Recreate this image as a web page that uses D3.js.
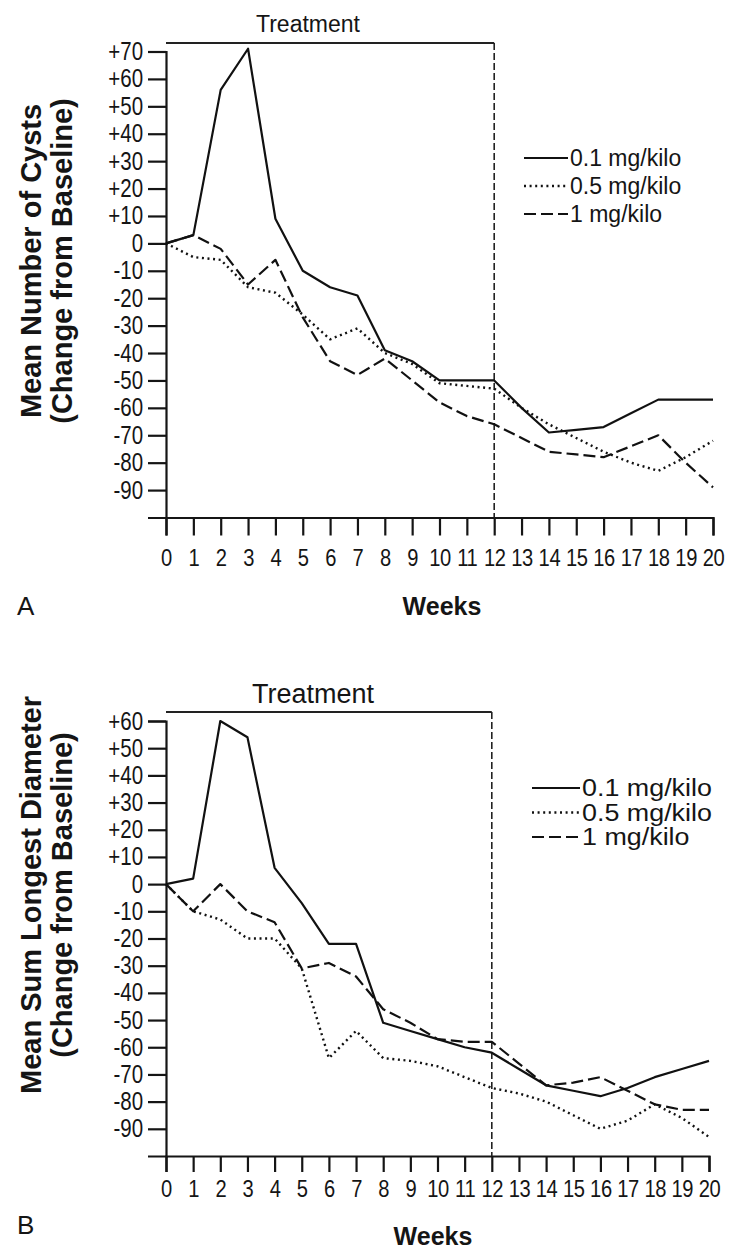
<!DOCTYPE html>
<html>
<head>
<meta charset="utf-8">
<script src="https://cdn.jsdelivr.net/npm/d3@7"></script>
<style>
  body { margin: 0; background: #fff; }
  svg text { font-family: "Liberation Sans", Arial, Helvetica, sans-serif; fill: #151515; }
</style>
</head>
<body>
<svg id="chart" width="731" height="1254"></svg>
<script>
// Weeks on study
const weeks = [0, 1, 2, 3, 4, 5, 6, 7, 8, 9, 10, 11, 12, 13, 14, 15, 16, 17, 18, 19, 20];
const xTickLabels = ["0", "1", "2", "3", "4", "5", "6", "7", "8", "9", "10", "11", "12", "13", "14", "15", "16", "17", "18", "19", "20"];

// Dose groups
const doses = ["0.1 mg/kilo", "0.5 mg/kilo", "1 mg/kilo"];

// Panel A: mean number of cysts, change from baseline
const cystsLow  = [0, 3, 56, 71, 9, -10, -16, -19, -39, -43, -50, -50, -50, -60, -69, -68, -67, -62, -57, -57, -57];
const cystsMid  = [0, -5, -6, -16, -18, -26, -35, -31, -40, -44, -51, -52, -53, -60, -66, -71, -76, -80, -83, -78, -72];
const cystsHigh = [0, 3, -2, -15, -6, -27, -43, -48, -42, -50, -58, -63, -66, -71, -76, -77, -78, -74, -70, -80, -89];
const yTicksA = [70, 60, 50, 40, 30, 20, 10, 0, -10, -20, -30, -40, -50, -60, -70, -80, -90];

// Panel B: mean sum of longest diameter, change from baseline
const diamLow  = [0, 2, 60, 54, 6, -7, -22, -22, -51, -54, -57, -60, -62, -68, -74, -76, -78, -75, -71, -68, -65];
const diamMid  = [0, -10, -13, -20, -20, -31, -64, -54, -64, -65, -67, -71, -75, -77, -80, -85, -90, -87, -81, -86, -93];
const diamHigh = [0, -10, 0, -10, -14, -31, -29, -34, -46, -51, -57, -58, -58, -66, -74, -73, -71, -76, -81, -83, -83];
const yTicksB = [60, 50, 40, 30, 20, 10, 0, -10, -20, -30, -40, -50, -60, -70, -80, -90];

const treatmentEnd = 12;

const svg = d3.select("#chart");

// solid, dotted, dashed
const dashFor = ["none", "2,3.6", "12,5"];

function fmtY(v) { return v > 0 ? "+" + v : String(v); }

function drawPanel(p) {
  const g = svg.append("g");
  const x = d3.scaleLinear().domain([0, 20]).range([p.x0, p.x1]);
  const y = d3.scaleLinear().domain(p.yDomain).range(p.yRange);
  const yBase = y(p.yDomain[0]);

  // y axis
  const yAxis = d3.axisLeft(y).tickValues(p.yTicks).tickSize(18).tickSizeOuter(18)
    .tickPadding(10).tickFormat(fmtY);
  const ya = g.append("g").attr("transform", `translate(${x(0)},0)`).call(yAxis);
  ya.select(".domain").attr("stroke", "#151515").attr("stroke-width", 2.2);
  ya.selectAll(".tick line").attr("stroke", "#151515").attr("stroke-width", 2.2);
  ya.selectAll(".tick text")
    .style("font-size", "25px").attr("fill", "#151515")
    .attr("transform", "scale(0.82,1)");

  // x axis
  const xAxis = d3.axisBottom(x).tickValues(weeks).tickSize(p.xTickSize).tickSizeOuter(p.xTickSize)
    .tickPadding(p.xPad).tickFormat((d, i) => xTickLabels[i]);
  const xa = g.append("g").attr("transform", `translate(0,${yBase})`).call(xAxis);
  xa.select(".domain").attr("stroke", "#151515").attr("stroke-width", 2.2);
  xa.selectAll(".tick line").attr("stroke", "#151515").attr("stroke-width", 2.2);
  xa.selectAll(".tick text")
    .style("font-size", "24px").style("letter-spacing", "-0.5px").attr("fill", "#151515")
    .attr("transform", "scale(0.84,1)");

  // treatment bracket and end-of-treatment marker
  g.append("line")
    .attr("x1", x(0)).attr("x2", x(treatmentEnd))
    .attr("y1", p.bracketY).attr("y2", p.bracketY)
    .attr("stroke", "#222").attr("stroke-width", 1.8);
  g.append("line")
    .attr("x1", x(treatmentEnd)).attr("x2", x(treatmentEnd))
    .attr("y1", p.bracketY).attr("y2", yBase)
    .attr("stroke", "#222").attr("stroke-width", 1.6)
    .attr("stroke-dasharray", "7,3");
  g.append("text")
    .attr("x", p.treatX).attr("y", p.treatY)
    .attr("text-anchor", "middle")
    .style("font-size", p.treatSize + "px")
    .text("Treatment");

  // series
  const line = d3.line().x((d, i) => x(weeks[i])).y(d => y(d));
  p.series.forEach((s, k) => {
    g.append("path")
      .datum(s)
      .attr("d", line)
      .attr("fill", "none")
      .attr("stroke", "#111")
      .attr("stroke-width", k === 1 ? 2.4 : 2.2)
      .attr("stroke-linejoin", "round")
      .attr("stroke-dasharray", dashFor[k]);
  });

  // legend
  const lg = g.append("g");
  doses.forEach((name, k) => {
    const ly = p.legendY + k * p.legendGap;
    lg.append("line")
      .attr("x1", p.legendX).attr("x2", p.legendX + p.legendLen)
      .attr("y1", ly).attr("y2", ly)
      .attr("stroke", "#111").attr("stroke-width", k === 1 ? 2.4 : 2.2)
      .attr("stroke-dasharray", dashFor[k]);
    lg.append("text")
      .attr("transform", `translate(${p.legendX + p.legendLen + 2},${ly + 8}) scale(${p.legendStretch},1)`)
      .style("font-size", p.legendSize + "px")
      .text(name);
  });

  // y axis title (two lines)
  const tg = g.append("g");
  p.yTitle.forEach((t, k) => {
    tg.append("text")
      .attr("transform", `translate(${p.titleX + k * 31},${p.titleCY}) rotate(-90)`)
      .attr("text-anchor", "middle")
      .style("font-size", "29px")
      .style("font-weight", "bold")
      .text(t);
  });

  // x axis title
  g.append("text")
    .attr("x", p.weeksX).attr("y", p.weeksY)
    .attr("text-anchor", "middle")
    .style("font-size", "25px")
    .style("font-weight", "bold")
    .text("Weeks");

  // panel letter
  g.append("text")
    .attr("x", p.letterX).attr("y", p.letterY)
    .style("font-size", "26px")
    .text(p.letter);
}

drawPanel({
  letter: "A",
  x0: 166, x1: 713,
  yDomain: [-100, 70], yRange: [517.5, 51.5],
  yTicks: yTicksA, xTickSize: 18, xPad: 13,
  bracketY: 43, treatX: 308, treatY: 32, treatSize: 23,
  series: [cystsLow, cystsMid, cystsHigh],
  legendX: 524, legendY: 158, legendGap: 28, legendLen: 44, legendSize: 23, legendStretch: 1.0,
  yTitle: ["Mean Number of Cysts", "(Change from Baseline)"],
  titleX: 41, titleCY: 261,
  weeksX: 442, weeksY: 615,
  letterX: 17, letterY: 615
});

drawPanel({
  letter: "B",
  x0: 166, x1: 709,
  yDomain: [-100, 60], yRange: [1156, 721],
  yTicks: yTicksB, xTickSize: 16, xPad: 8,
  bracketY: 712, treatX: 313, treatY: 703, treatSize: 27,
  series: [diamLow, diamMid, diamHigh],
  legendX: 532, legendY: 788, legendGap: 24.5, legendLen: 48, legendSize: 24, legendStretch: 1.12,
  yTitle: ["Mean Sum Longest Diameter", "(Change from Baseline)"],
  titleX: 41, titleCY: 895,
  weeksX: 433, weeksY: 1245,
  letterX: 17, letterY: 1234
});
</script>
</body>
</html>
